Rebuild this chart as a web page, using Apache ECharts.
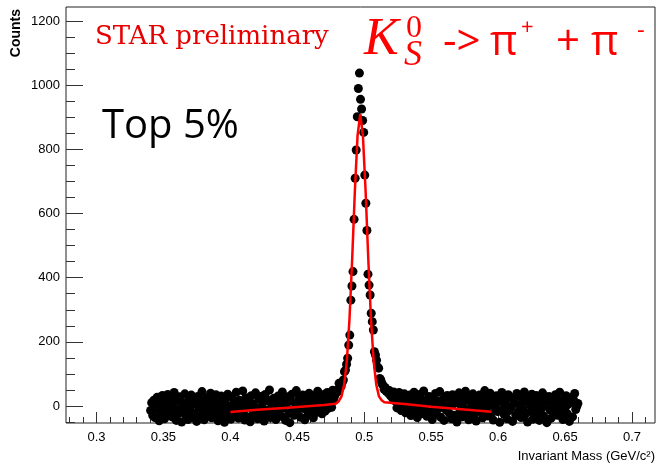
<!DOCTYPE html>
<html><head><meta charset="utf-8">
<script src="https://cdn.jsdelivr.net/npm/echarts@6/dist/echarts.min.js"></script>
<style>html,body{margin:0;padding:0;background:#fff}#c{width:658px;height:465px}</style>
</head><body><div id="c"></div>
<script>
// Histogram: bin centres start at binStart, spaced binWidth
const binStart = 0.3404;
const binWidth = 0.0008;
const counts = [
-14, 10, -30, 18, -36, 4, 27, -10, -46, 12, -22, 33, -6, -40, 15, -27, 36, -2, -18, 22,
-34, 6, 42, -12, -45, 17, -24, 29, -7, -50, 11, -19, 38, -30, 2, -42, 24, -11, 34, -36,
13, -23, 7, -48, 30, -5, -33, 19, 45, -16, -43, 8, 25, -29, 0, -13, 40, -37, 16, -8,
-25, 35, -4, -46, 20, -17, 31, -35, 5, -51, 23, -12, 37, -28, 1, -41, 28, -20, 12, -31,
43, -7, -38, 18, -24, 10, 47, -14, -44, 26, -1, -34, 14, -49, 32, -11, 6, -27, 41, -18,
-40, 22, -5, 30, -30, 11, -47, 36, -13, -22, 17, 50, -36, 4, -25, 24, -10, -42, 13, 31,
-17, 0, -32, 44, -6, 19, -45, 7, 29, -23, -52, 16, 37, -12, -29, 10, 48, -19, -2, 25,
-35, 12, 34, -8, -43, 20, 4, -26, 40, -14, 23, -1, -37, 31, 8, -20, 46, -11, 17, 28,
-24, 5, 36, -16, 19, 42, -7, 14, 32, -4, 49, 22,
32, 40, 50, 45, 71, 58, 62, 75, 81, 107, 112, 130, 149, 190, 221, 330, 374, 419, 582, 710, 798, 902, 990, 1038,
956, 926, 890, 853, 720, 632, 547, 411, 377, 346, 289, 263, 237, 169, 159, 143, 122, 118, 86, 81, 70, 65, 52, 58,
46, 50, 40, 48, 32, 38, 24, 44, 16, 36, -6, 30, 42, 12, -14, 28, 7, 38, -21, 23,
14, -10, 34, -30, 20, 2, 43, -17, 11, -36, 28, -4, 37, -24, 17, 47, -12, 6, -32, 22,
30, -19, 10, -42, 25, 0, 39, -26, 13, -8, 45, -35, 19, 4, -45, 27, -13, 33, -1, -23,
15, -40, 35, 7, -29, 21, -50, 12, 41, -16, 1, -34, 26, -7, 46, -20, 18, -43, 30, -11,
5, 38, -28, 14, -47, 24, -2, 34, -18, 8, -37, 28, 48, -12, 19, -31, 2, 40, -24, 11,
-44, 25, -6, 32, -17, 13, -51, 21, 42, -10, -26, 17, 4, -40, 35, -14, 27, -2, -48, 20,
10, -30, 39, -19, 31, 1, -36, 23, -11, 44, -25, 14, -50, 28, 6, -17, 37, -41, 18, -5,
33, -23, 12, -45, 24, -8, 41, -31, 2, 20, -52, 15, 30, -13, -38, 26, 7, -22, 35, -4,
-29, 17, 43, -16, 11, -42, 21, -7, 32, -24, 5, -48, 25, 13, -34, 19, 39, -11, -1, 8
];
// Fit curve
const fitX = [0.400,0.420,0.440,0.460,0.470,0.477,0.479,0.481,0.483,0.485,0.487,0.489,0.491,0.493,0.495,0.497,0.499,0.501,0.503,0.505,0.507,0.509,0.511,0.513,0.515,0.530,0.550,0.570,0.595];
const fitY = [-19,-12,-6,0,3,6,8,15,30,66,141,273,460,671,843,910,843,671,460,273,141,66,30,18,12,6,-2,-9,-18];
// Axis ticks
const xMajorTicks = [0.3,0.35,0.4,0.45,0.5,0.55,0.6,0.65,0.7];
const xMinorTicks = [0.28,0.29,0.31,0.32,0.33,0.34,0.36,0.37,0.38,0.39,0.41,0.42,0.43,0.44,0.46,0.47,0.48,0.49,0.51,0.52,0.53,0.54,0.56,0.57,0.58,0.59,0.61,0.62,0.63,0.64,0.66,0.67,0.68,0.69,0.71];
const yMajorTicks = [0,200,400,600,800,1000,1200];
const yMinorTicks = [-50,50,100,150,250,300,350,450,500,550,650,700,750,850,900,950,1050,1100,1150];
const xMin = 0.2772, xMax = 0.7172, yMin = -53, yMax = 1244;

const chart = echarts.init(document.getElementById('c'), null, {renderer:'canvas'});
const tickCol = '#333';
const labelFont = {color:'#000', fontSize:13, fontFamily:'Liberation Sans'};
const option = {
  animation:false,
  grid:{left:66, right:3, top:7, bottom:42, show:true, borderColor:'#222', borderWidth:1, backgroundColor:'transparent'},
  xAxis:[
    {type:'value', min:xMin, max:xMax, position:'bottom',
     axisLine:{show:false, onZero:false}, splitLine:{show:false},
     axisTick:{show:true, inside:true, length:11, customValues:xMajorTicks, lineStyle:{color:tickCol}},
     axisLabel:Object.assign({show:true, margin:8, customValues:xMajorTicks, formatter:v=>String(+(+v).toFixed(2))}, labelFont)},
    {type:'value', min:xMin, max:xMax, position:'bottom', offset:0,
     axisLine:{show:false, onZero:false}, splitLine:{show:false}, axisLabel:{show:false},
     axisTick:{show:true, inside:true, length:6, customValues:xMinorTicks, lineStyle:{color:tickCol}}}
  ],
  yAxis:[
    {type:'value', min:yMin, max:yMax, position:'left',
     axisLine:{show:false, onZero:false}, splitLine:{show:false},
     axisTick:{show:true, inside:true, length:17, customValues:yMajorTicks, lineStyle:{color:tickCol}},
     axisLabel:Object.assign({show:true, margin:6, customValues:yMajorTicks, formatter:v=>String(v)}, labelFont)},
    {type:'value', min:yMin, max:yMax, position:'left', offset:0,
     axisLine:{show:false, onZero:false}, splitLine:{show:false}, axisLabel:{show:false},
     axisTick:{show:true, inside:true, length:9, customValues:yMinorTicks, lineStyle:{color:tickCol}}}
  ],
  series:[
    {type:'scatter', xAxisIndex:0, yAxisIndex:0, symbol:'circle', symbolSize:9,
     itemStyle:{color:'#000', opacity:1}, emphasis:{disabled:true},
     data:counts.map((c,i)=>[binStart + i*binWidth, c]), z:2},
    {type:'line', xAxisIndex:0, yAxisIndex:0, showSymbol:false, smooth:false,
     lineStyle:{color:'#ff0000', width:2.5}, data:fitX.map((x,i)=>[x, fitY[i]]), z:5}
  ],
  graphic:[
    {type:'text', x:655, y:456, style:{text:'Invariant Mass (GeV/c²)', align:'right', verticalAlign:'middle', fontSize:13, fontFamily:'Liberation Sans', fill:'#000'}},
    {type:'text', x:16, y:9, rotation:Math.PI/2, style:{text:'Counts', align:'right', verticalAlign:'middle', fontSize:14, fontWeight:'bold', fontFamily:'Liberation Sans', fill:'#000'}},
    {type:'text', x:95, y:37, style:{text:'STAR preliminary', align:'left', verticalAlign:'middle', fontSize:26, fontFamily:'DejaVu Serif', fill:'#e60000'}},
    {type:'text', x:102, y:127, style:{text:'Top 5%', align:'left', verticalAlign:'middle', fontSize:40, fontFamily:'Open Sans', fill:'#000'}},
    {type:'text', x:364, y:40, style:{text:'K', align:'left', verticalAlign:'middle', fontSize:52, fontStyle:'italic', fontFamily:'Liberation Serif', fill:'#ff0000'}},
    {type:'text', x:404, y:56, style:{text:'S', align:'left', verticalAlign:'middle', fontSize:36, fontStyle:'italic', fontFamily:'Liberation Serif', fill:'#ff0000'}},
    {type:'text', x:406, y:29, style:{text:'0', align:'left', verticalAlign:'middle', fontSize:32, fontFamily:'Liberation Serif', fill:'#ff0000'}},
    {type:'text', x:443, y:43, style:{text:'->', align:'left', verticalAlign:'middle', fontSize:42, fontFamily:'Open Sans', fill:'#ff0000'}},
    {type:'text', x:490, y:43, style:{text:'π', align:'left', verticalAlign:'middle', fontSize:42, fontFamily:'Open Sans', fill:'#ff0000'}},
    {type:'text', x:521, y:28, style:{text:'+', align:'left', verticalAlign:'middle', fontSize:22, fontFamily:'Open Sans', fill:'#ff0000'}},
    {type:'text', x:556, y:43, style:{text:'+', align:'left', verticalAlign:'middle', fontSize:42, fontFamily:'Open Sans', fill:'#ff0000'}},
    {type:'text', x:591, y:43, style:{text:'π', align:'left', verticalAlign:'middle', fontSize:42, fontFamily:'Open Sans', fill:'#ff0000'}},
    {type:'text', x:637, y:31, style:{text:'-', align:'left', verticalAlign:'middle', fontSize:24, fontFamily:'Open Sans', fill:'#ff0000'}}
  ]
};
chart.setOption(option);
</script>
</body></html>
